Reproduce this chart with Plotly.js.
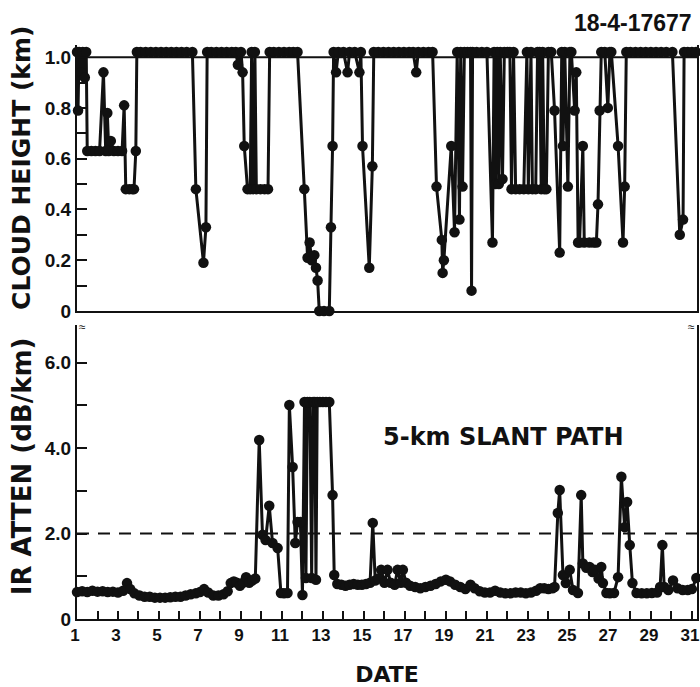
<!DOCTYPE html>
<html>
<head>
<meta charset="utf-8">
<script src="https://cdn.plot.ly/plotly-3.0.1.min.js"></script>
<style>
html,body{margin:0;padding:0;background:#fff;}
#chart{width:700px;height:687px;}
</style>
</head>
<body>
<div id="chart"></div>
<script>
// ---- DATA ----
// Cloud height (km); 1.02 = above 1 km (plotted on the top line)
const heightDay = [
1.00,1.05,1.10,1.20,1.28,1.38,1.45,1.50,1.70,1.90,2.10,2.29,2.40,2.48,2.55,2.65,2.80,3.00,3.20,3.30,
3.38,3.55,3.70,3.78,3.87,3.92,4.10,4.35,4.60,4.85,5.10,5.35,5.60,5.85,6.10,6.35,6.63,6.80,7.17,7.29,
7.35,7.55,7.80,8.05,8.30,8.55,8.75,8.85,9.00,9.08,9.16,9.32,9.45,9.52,9.60,9.68,9.75,9.95,10.15,10.32,
10.40,10.60,10.85,11.10,11.35,11.55,11.76,12.09,12.25,12.35,12.45,12.58,12.66,12.74,12.82,13.05,13.31,13.39,13.47,13.52,
13.64,13.75,14.00,14.20,14.30,14.55,14.78,14.85,14.93,15.26,15.41,15.48,15.70,15.95,16.20,16.45,16.70,16.95,17.20,17.40,
17.55,17.65,17.90,18.15,18.35,18.54,18.80,18.84,18.90,19.26,19.42,19.55,19.66,19.72,19.81,19.90,20.05,20.20,20.25,20.30,
20.50,20.75,21.00,21.27,21.35,21.42,21.50,21.58,21.65,21.76,21.85,22.00,22.12,22.20,22.30,22.40,22.60,22.80,22.95,23.02,
23.15,23.22,23.38,23.47,23.57,23.65,23.72,23.80,23.90,24.00,24.14,24.30,24.55,24.65,24.71,24.80,24.95,25.05,25.12,25.28,
25.36,25.45,25.52,25.68,25.75,26.00,26.20,26.34,26.42,26.50,26.58,26.75,26.90,27.00,27.07,27.40,27.64,27.72,27.80,28.00,
28.25,28.50,28.75,29.00,29.25,29.50,29.75,30.05,30.41,30.57,30.62,30.80,31.00,31.20
];
const heightKm = [
1.02,0.79,1.02,0.94,1.02,0.92,1.02,0.63,0.63,0.63,0.63,0.94,0.63,0.78,0.63,0.67,0.63,0.63,0.63,0.81,
0.48,0.48,0.48,0.48,0.63,1.02,1.02,1.02,1.02,1.02,1.02,1.02,1.02,1.02,1.02,1.02,1.02,0.48,0.19,0.33,
1.02,1.02,1.02,1.02,1.02,1.02,1.02,0.97,1.02,0.94,0.65,0.48,0.48,1.02,0.48,1.02,0.48,0.48,0.48,0.48,
1.02,1.02,1.02,1.02,1.02,1.02,1.02,0.48,0.21,0.27,0.20,0.22,0.17,0.12,0.00,0.00,0.00,0.33,0.65,1.02,
0.94,1.02,1.02,0.94,1.02,1.02,0.94,1.02,0.65,0.17,0.57,1.02,1.02,1.02,1.02,1.02,1.02,1.02,1.02,1.02,
0.94,1.02,1.02,1.02,1.02,0.49,0.28,0.15,0.20,0.65,0.31,1.02,0.36,1.02,0.49,1.02,1.02,1.02,0.08,1.02,
1.02,1.02,1.02,0.27,1.02,0.50,1.02,0.50,1.02,0.52,1.02,1.02,1.02,0.48,1.02,0.48,0.48,0.48,1.02,0.48,
1.02,0.48,0.48,1.02,1.02,0.48,1.02,0.48,0.48,1.02,1.02,0.79,0.23,1.02,0.65,1.02,0.49,1.02,1.02,0.79,
0.94,0.27,0.27,0.65,0.27,0.27,0.27,0.27,0.42,0.79,1.02,1.02,0.80,1.02,1.02,0.65,0.27,0.49,1.02,1.02,
1.02,1.02,1.02,1.02,1.02,1.02,1.02,1.02,0.30,0.36,1.02,1.02,1.02,1.02
];
// IR attenuation, 5-km slant path (dB/km)
const attenDay = [
1.00,1.25,1.50,1.75,2.00,2.25,2.50,2.75,3.00,3.25,3.44,3.60,3.80,4.05,4.30,4.55,4.80,5.05,5.30,5.55,
5.80,6.05,6.30,6.55,6.80,7.00,7.20,7.40,7.65,7.90,8.15,8.35,8.50,8.65,8.80,8.95,9.10,9.25,9.40,9.55,
9.70,9.89,10.05,10.20,10.38,10.54,10.79,10.95,11.10,11.27,11.36,11.52,11.65,11.76,11.90,12.00,12.10,12.17,12.24,12.30,
12.36,12.45,12.52,12.60,12.66,12.72,12.85,13.00,13.15,13.31,13.47,13.55,13.70,13.90,14.10,14.30,14.50,14.70,14.90,15.10,
15.30,15.43,15.55,15.70,15.84,16.00,16.15,16.30,16.50,16.64,16.80,16.90,17.05,17.25,17.50,17.75,18.00,18.25,18.50,18.75,
19.00,19.20,19.45,19.70,19.95,20.20,20.40,20.65,20.90,21.15,21.40,21.65,21.90,22.15,22.40,22.65,22.90,23.15,23.40,23.60,
23.80,24.00,24.20,24.30,24.46,24.55,24.71,24.85,25.04,25.20,25.44,25.60,25.68,25.85,26.01,26.15,26.26,26.45,26.58,26.66,
26.83,27.00,27.20,27.40,27.56,27.72,27.84,27.97,28.10,28.30,28.55,28.80,29.05,29.30,29.45,29.56,29.65,29.85,30.08,30.30,
30.55,30.80,31.00,31.22
];
const attenDbKm = [
0.63,0.65,0.63,0.66,0.64,0.65,0.63,0.64,0.62,0.66,0.84,0.70,0.60,0.55,0.52,0.52,0.50,0.50,0.50,0.51,
0.52,0.52,0.55,0.58,0.60,0.63,0.70,0.62,0.55,0.55,0.58,0.65,0.84,0.88,0.85,0.78,0.85,0.98,0.85,0.90,
0.95,4.19,1.97,1.85,2.65,1.78,1.66,0.61,0.60,0.61,5.01,3.56,1.78,2.27,2.27,0.56,5.08,0.96,5.08,4.60,
5.08,0.96,5.08,5.08,0.92,5.08,5.08,5.08,5.08,5.08,2.90,1.03,0.82,0.80,0.78,0.80,0.82,0.80,0.80,0.82,
0.85,2.25,0.90,0.95,1.15,0.85,1.15,0.85,0.80,1.15,0.85,1.15,0.85,0.78,0.75,0.72,0.75,0.78,0.82,0.88,
0.92,0.88,0.80,0.75,0.70,0.80,0.72,0.65,0.62,0.62,0.66,0.62,0.60,0.60,0.62,0.62,0.60,0.62,0.66,0.72,
0.72,0.70,0.72,0.75,2.48,3.02,1.03,0.84,1.15,0.68,0.61,2.90,1.30,1.20,1.22,1.10,1.15,0.95,1.22,0.84,
0.61,0.60,0.61,0.98,3.33,2.15,2.74,1.73,0.84,0.61,0.60,0.60,0.61,0.62,0.75,1.73,0.75,0.68,0.90,0.72,
0.68,0.68,0.70,0.96
];
const dayTicks = [1,2,3,4,5,6,7,8,9,10,11,12,13,14,15,16,17,18,19,20,21,22,23,24,25,26,27,28,29,30,31];
const dayTickText = ['1','','3','','5','','7','','9','','11','','13','','15','','17','','19','','21','','23','','25','','27','','29','','31'];
const heightTicks = [0,0.1,0.2,0.3,0.4,0.5,0.6,0.7,0.8,0.9,1.0];
const heightTickText = ['0','','0.2','','0.4','','0.6','','0.8','','1.0'];
const attenTicks = [0,1,2,3,4,5,6];
const attenTickText = ['0','','2.0','','4.0','','6.0'];
const attenThreshold = 2.0;

// ---- STYLE ----
const INK = '#111111';
const FONT = 'Liberation Sans, Arial, sans-serif';
const TFONT = 'DejaVu Sans, Liberation Sans, sans-serif';

const traces = [
  {
    x: attenDay, y: attenDbKm, xaxis: 'x', yaxis: 'y',
    type: 'scatter', mode: 'lines+markers', cliponaxis: false,
    line: {color: INK, width: 3},
    marker: {color: INK, size: 10.5},
    showlegend: false, hoverinfo: 'skip'
  },
  {
    x: heightDay, y: heightKm, xaxis: 'x2', yaxis: 'y2',
    type: 'scatter', mode: 'lines+markers', cliponaxis: false,
    line: {color: INK, width: 3},
    marker: {color: INK, size: 10.5},
    showlegend: false, hoverinfo: 'skip'
  }
];

const layout = {
  width: 700, height: 687,
  margin: {l: 77, r: 3, t: 40, b: 68},
  paper_bgcolor: '#ffffff', plot_bgcolor: '#ffffff',
  font: {family: FONT, color: INK, size: 18},
  xaxis: {
    range: [1, 31.25], domain: [0, 1], anchor: 'y',
    tickvals: dayTicks, ticktext: dayTickText,
    ticks: 'inside', ticklen: 8, tickwidth: 2, tickcolor: INK,
    ticklabelshift: -2,
    showline: true, linecolor: INK, linewidth: 2,
    showgrid: false, zeroline: false,
    tickfont: {family: FONT, size: 17, color: INK, weight: 'bold'},
    title: {text: 'DATE', font: {family: TFONT, size: 22, color: INK, weight: 'bold'}, standoff: 28}
  },
  xaxis2: {
    range: [1, 31.25], domain: [0, 1], anchor: 'y2', matches: 'x',
    showticklabels: false, ticks: '',
    showline: true, linecolor: INK, linewidth: 2,
    showgrid: false, zeroline: false
  },
  yaxis: {
    range: [0, 6.885], domain: [0, 0.508], anchor: 'x',
    tickvals: attenTicks, ticktext: attenTickText,
    ticks: 'inside', ticklen: 10, tickwidth: 2, tickcolor: INK,
    showline: true, linecolor: INK, linewidth: 2, mirror: true,
    showgrid: false, zeroline: false,
    tickfont: {family: FONT, size: 19, color: INK, weight: 'bold'}
  },
  yaxis2: {
    range: [0, 1.047], domain: [0.532, 0.991], anchor: 'x2',
    tickvals: heightTicks, ticktext: heightTickText,
    ticks: 'inside', ticklen: 10, tickwidth: 2, tickcolor: INK,
    showline: true, linecolor: INK, linewidth: 2, mirror: true,
    showgrid: false, zeroline: false,
    tickfont: {family: FONT, size: 19, color: INK, weight: 'bold'}
  },
  shapes: [
    {type: 'line', xref: 'paper', x0: 0, x1: 1, yref: 'y2', y0: 1.0, y1: 1.0,
     line: {color: INK, width: 2}},
    {type: 'line', xref: 'paper', x0: 0, x1: 1, yref: 'y', y0: attenThreshold, y1: attenThreshold,
     line: {color: INK, width: 2, dash: '12px,9px'}}
  ],
  annotations: [
    {text: '18-4-17677', xref: 'paper', yref: 'paper', x: 0.995, y: 1.03,
     xanchor: 'right', yanchor: 'middle', showarrow: false,
     font: {family: FONT, size: 23, color: INK, weight: 'bold'}},
    {text: 'CLOUD HEIGHT (km)', xref: 'paper', yref: 'paper', x: -0.0887, y: 0.779,
     xanchor: 'center', yanchor: 'middle', textangle: -90, showarrow: false,
     font: {family: TFONT, size: 25, color: INK, weight: 'bold'}},
    {text: 'IR ATTEN (dB/km)', xref: 'paper', yref: 'paper', x: -0.0887, y: 0.264,
     xanchor: 'center', yanchor: 'middle', textangle: -90, showarrow: false,
     font: {family: TFONT, size: 26, color: INK, weight: 'bold'}},
    {text: '5-km SLANT PATH', xref: 'x', yref: 'y', x: 21.83, y: 4.26,
     showarrow: false, font: {family: TFONT, size: 24, color: INK, weight: 'bold'}},
    {text: '≈', xref: 'paper', yref: 'paper', x: 0, y: 0.505, showarrow: false,
     font: {family: FONT, size: 12, color: INK}},
    {text: '≈', xref: 'paper', yref: 'paper', x: 1, y: 0.505, showarrow: false,
     font: {family: FONT, size: 12, color: INK}}
  ]
};

Plotly.newPlot('chart', traces, layout, {displayModeBar: false, staticPlot: true});
</script>
</body>
</html>
